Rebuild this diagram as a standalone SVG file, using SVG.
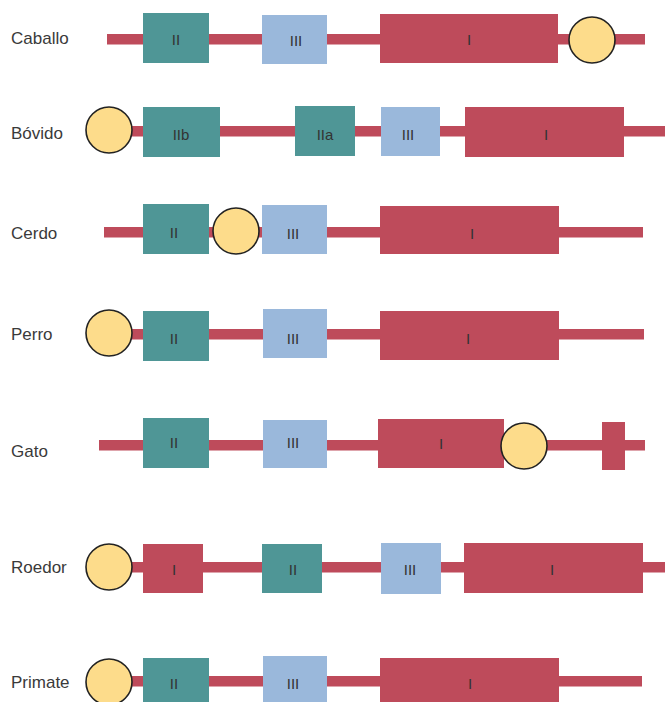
<svg xmlns="http://www.w3.org/2000/svg" width="665" height="702" viewBox="0 0 665 702">
  <style>
    .bg { fill: #ffffff; }
    .line { fill: #be4b5b; }
    .exI { fill: #be4b5b; }
    .exII { fill: #4f9696; }
    .exIII { fill: #9ab8db; }
    .prom { fill: #fddc8b; stroke: #222222; stroke-width: 1.6; }
    .name { font-family: "Liberation Sans", Arial, sans-serif; font-size: 17px; fill: #3a3a3a; }
    .lbl { font-family: "Liberation Sans", Arial, sans-serif; font-size: 15px; fill: #333333; text-anchor: middle; }
  </style>
  <rect class="bg" x="0" y="0" width="665" height="702"/>

  <!-- backbone lines -->
  <g id="connectors">
    <rect class="line" x="107" y="34" width="538" height="10.5"/>
    <rect class="line" x="120" y="126" width="545" height="10.5"/>
    <rect class="line" x="104" y="227" width="539" height="10.5"/>
    <rect class="line" x="120" y="329" width="524" height="10.5"/>
    <rect class="line" x="99" y="440" width="546" height="10.5"/>
    <rect class="line" x="120" y="562" width="545" height="10.5"/>
    <rect class="line" x="120" y="676" width="522" height="10.5"/>
  </g>

  <!-- Caballo -->
  <g id="caballo">
    <text class="name" x="11" y="44">Caballo</text>
    <rect class="exII" x="143" y="13" width="66" height="50"/>
    <text class="lbl" x="176" y="45">II</text>
    <rect class="exIII" x="262" y="15" width="65" height="49"/>
    <text class="lbl" x="296" y="46">III</text>
    <rect class="exI" x="380" y="14" width="178" height="49"/>
    <text class="lbl" x="469" y="45">I</text>
    <circle class="prom" cx="592" cy="40" r="23"/>
  </g>

  <!-- Bóvido -->
  <g id="bovido">
    <text class="name" x="11" y="139">Bóvido</text>
    <circle class="prom" cx="109" cy="130" r="23"/>
    <rect class="exII" x="143" y="107" width="77" height="50"/>
    <text class="lbl" x="181" y="140">IIb</text>
    <rect class="exII" x="295" y="106" width="60" height="50"/>
    <text class="lbl" x="325" y="140">IIa</text>
    <rect class="exIII" x="381" y="107" width="59" height="49"/>
    <text class="lbl" x="408" y="140">III</text>
    <rect class="exI" x="465" y="107" width="159" height="50"/>
    <text class="lbl" x="546" y="140">I</text>
  </g>

  <!-- Cerdo -->
  <g id="cerdo">
    <text class="name" x="11" y="239">Cerdo</text>
    <rect class="exII" x="143" y="204" width="66" height="50"/>
    <text class="lbl" x="174" y="238">II</text>
    <circle class="prom" cx="236" cy="231" r="23"/>
    <rect class="exIII" x="262" y="205" width="65" height="49"/>
    <text class="lbl" x="293" y="239">III</text>
    <rect class="exI" x="380" y="206" width="179" height="48"/>
    <text class="lbl" x="472" y="239">I</text>
  </g>

  <!-- Perro -->
  <g id="perro">
    <text class="name" x="11" y="340">Perro</text>
    <circle class="prom" cx="109" cy="333" r="23"/>
    <rect class="exII" x="143" y="311" width="66" height="50"/>
    <text class="lbl" x="174" y="344">II</text>
    <rect class="exIII" x="263" y="309" width="64" height="49"/>
    <text class="lbl" x="293" y="344">III</text>
    <rect class="exI" x="380" y="311" width="179" height="49"/>
    <text class="lbl" x="468" y="344">I</text>
  </g>

  <!-- Gato -->
  <g id="gato">
    <text class="name" x="11" y="457">Gato</text>
    <rect class="exII" x="143" y="418" width="66" height="50"/>
    <text class="lbl" x="174" y="448">II</text>
    <rect class="exIII" x="263" y="420" width="64" height="48"/>
    <text class="lbl" x="293" y="448">III</text>
    <rect class="exI" x="378" y="419" width="126" height="49"/>
    <text class="lbl" x="441" y="449">I</text>
    <circle class="prom" cx="524" cy="446" r="23"/>
    <rect class="exI" x="602" y="422" width="23" height="48"/>
  </g>

  <!-- Roedor -->
  <g id="roedor">
    <text class="name" x="11" y="573">Roedor</text>
    <circle class="prom" cx="109" cy="567" r="23"/>
    <rect class="exI" x="143" y="544" width="60" height="49"/>
    <text class="lbl" x="174" y="575">I</text>
    <rect class="exII" x="262" y="544" width="60" height="49"/>
    <text class="lbl" x="293" y="575">II</text>
    <rect class="exIII" x="381" y="543" width="60" height="51"/>
    <text class="lbl" x="410" y="575">III</text>
    <rect class="exI" x="464" y="543" width="179" height="50"/>
    <text class="lbl" x="552" y="575">I</text>
  </g>

  <!-- Primate -->
  <g id="primate">
    <text class="name" x="11" y="688">Primate</text>
    <circle class="prom" cx="109" cy="682" r="23"/>
    <rect class="exII" x="143" y="658" width="66" height="50"/>
    <text class="lbl" x="174" y="689">II</text>
    <rect class="exIII" x="263" y="656" width="64" height="50"/>
    <text class="lbl" x="293" y="689">III</text>
    <rect class="exI" x="380" y="658" width="179" height="50"/>
    <text class="lbl" x="470" y="689">I</text>
  </g>
</svg>
